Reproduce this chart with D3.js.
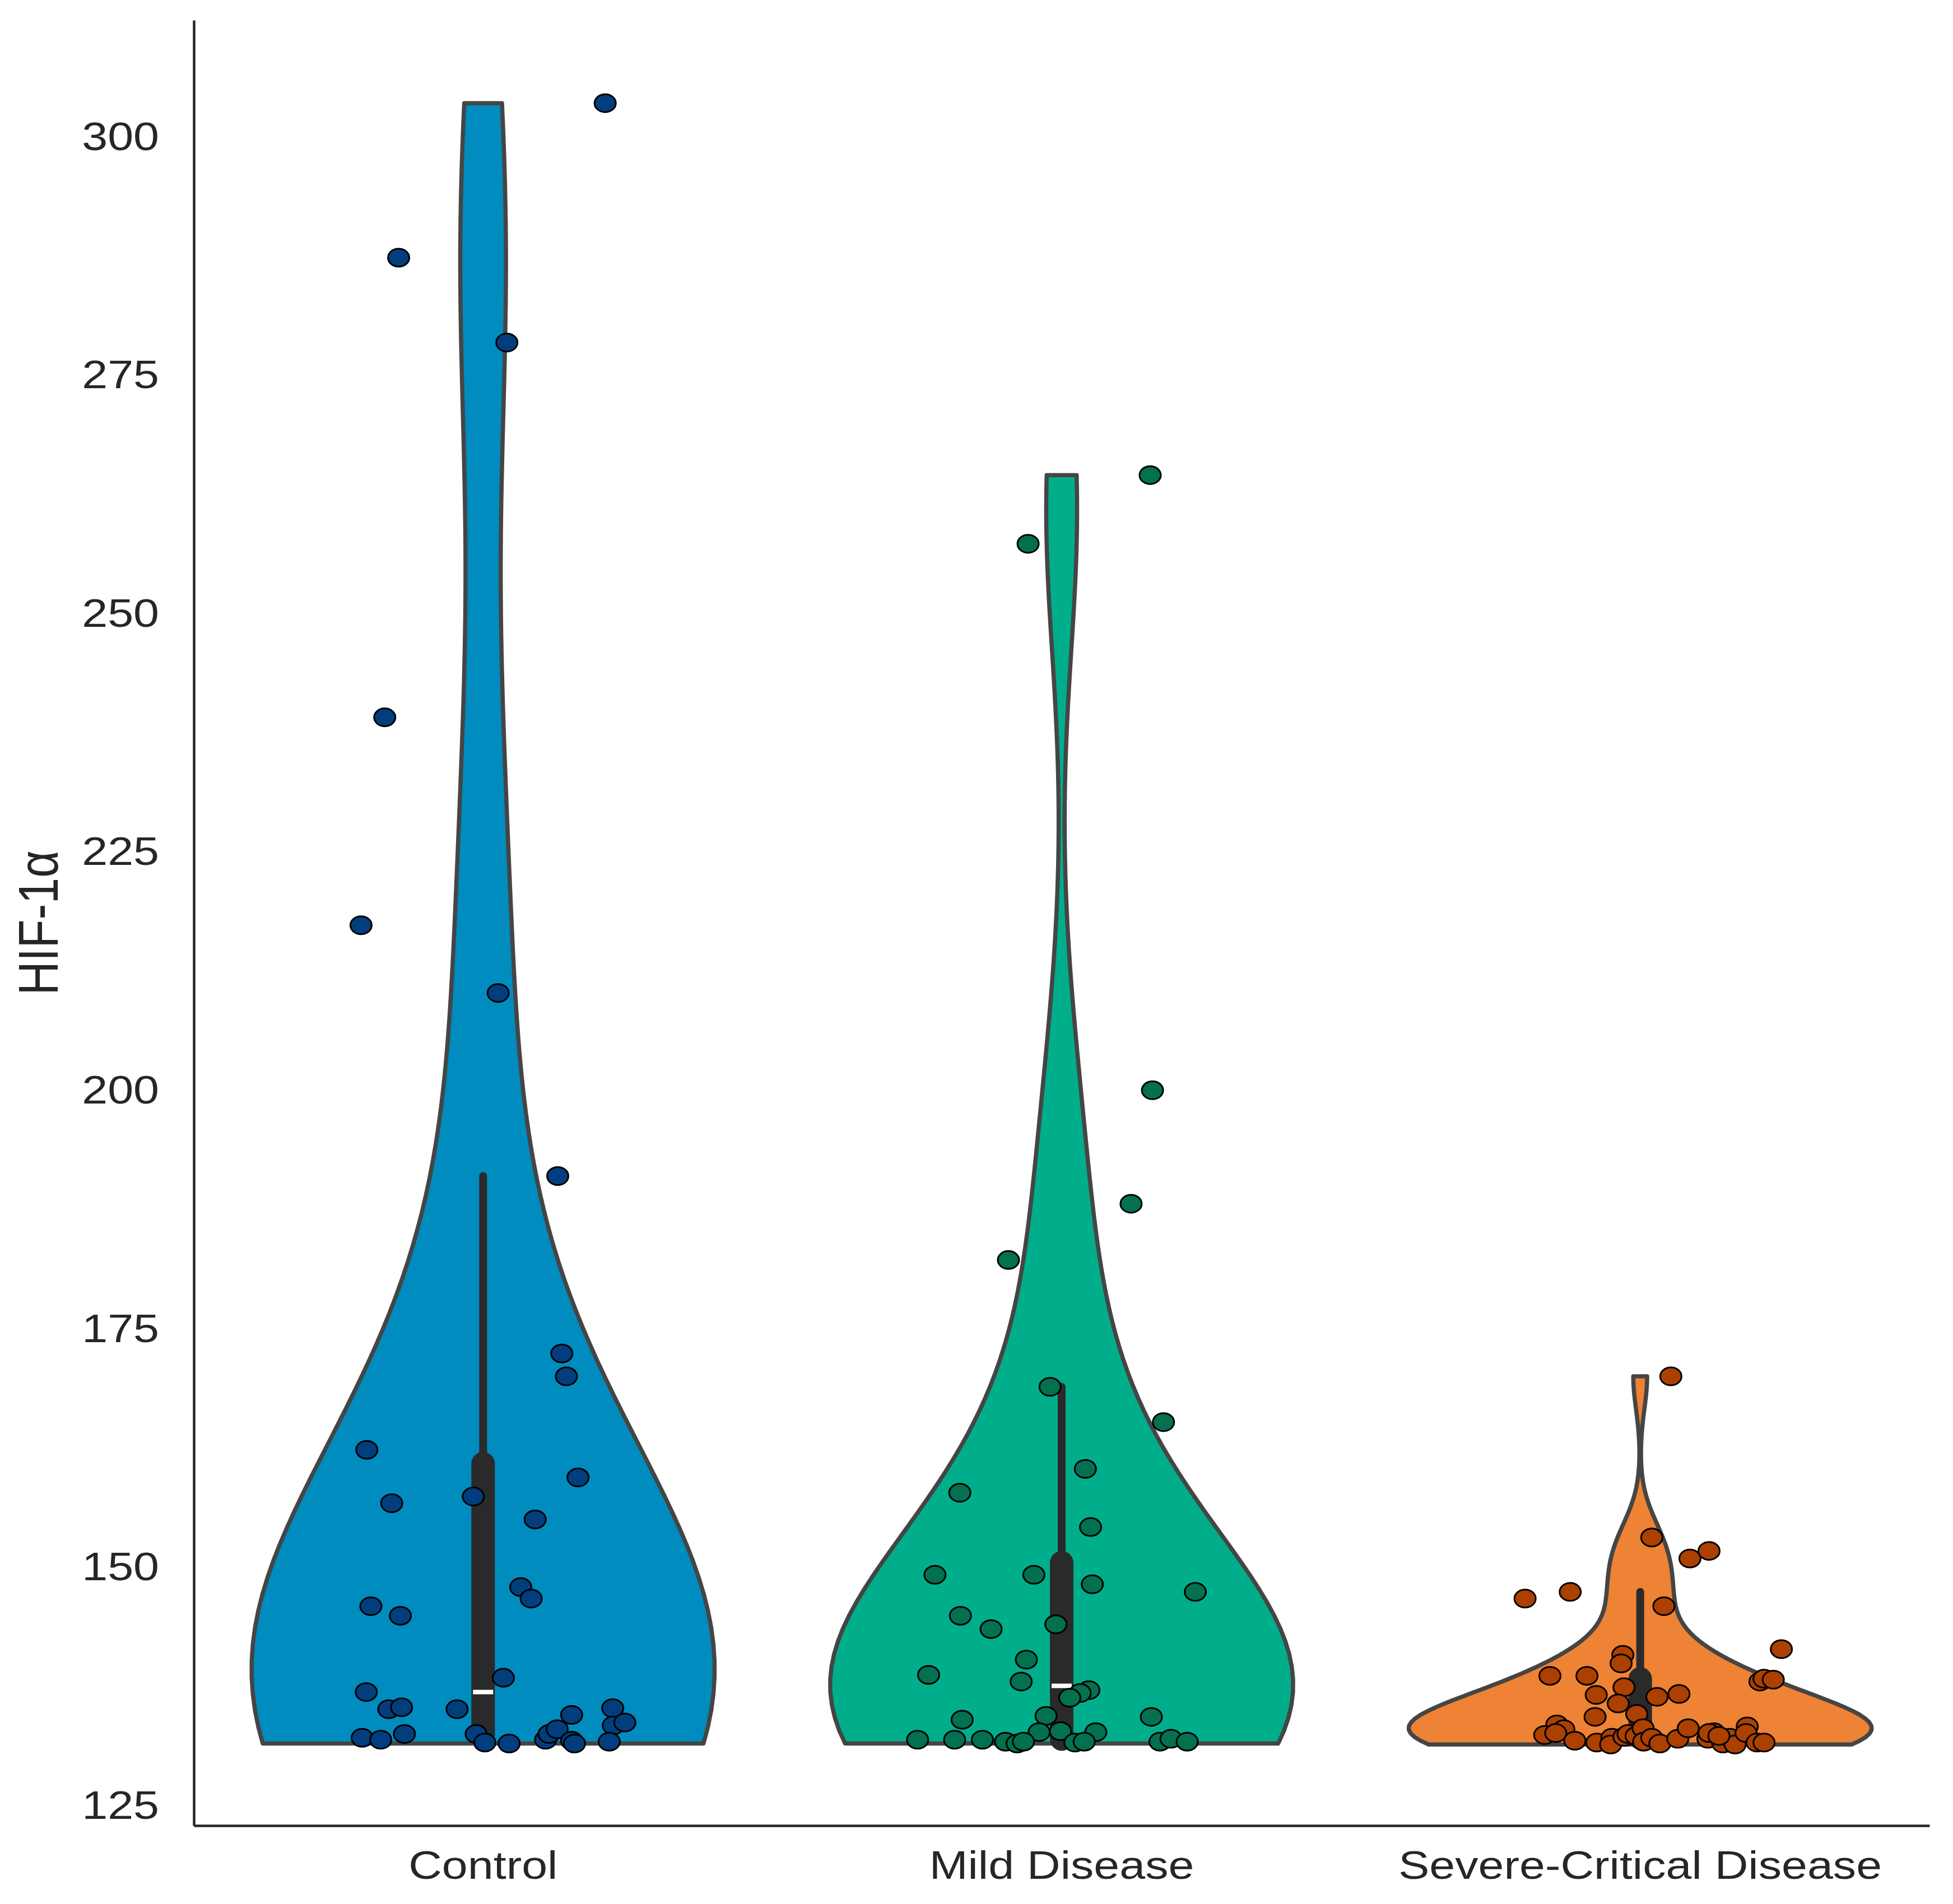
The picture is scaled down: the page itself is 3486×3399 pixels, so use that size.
<!DOCTYPE html>
<html>
<head>
<meta charset="utf-8">
<script src="https://cdn.jsdelivr.net/npm/d3@7"></script>
<style>
  body { margin: 0; background: #fff; }
  text { font-family: "Liberation Sans", Arial, sans-serif; fill: #262626; }
</style>
</head>
<body>
<div id="chart"></div>
<script>
// ---- data ----
const categories = ["Control", "Mild Disease", "Severe-Critical Disease"];
const yTicks = [125, 150, 175, 200, 225, 250, 275, 300];
const yLabel = "HIF-1α";

const controlValues = [303.4, 287.2, 278.3, 239.0, 217.2, 210.1, 190.9, 172.3, 169.9, 162.2,
  159.3, 156.6, 157.3, 154.9, 147.8, 146.6, 145.8, 144.8, 138.3, 136.8,
  135.0, 135.2, 135.0, 134.4, 135.1, 133.3, 133.6, 132.0, 131.8, 132.4,
  132.4, 131.5, 131.4, 131.8, 132.4, 132.9, 131.7, 131.4, 131.6];
const controlJitter = [0.211, -0.146, 0.041, -0.170, -0.211, 0.026, 0.129, 0.136, 0.144, -0.201,
  0.164, -0.158, -0.017, 0.090, 0.065, 0.083, -0.194, -0.143, 0.035, -0.202,
  -0.163, -0.141, -0.045, 0.153, 0.224, 0.225, 0.245, -0.209, -0.177, -0.136,
  -0.012, 0.003, 0.045, 0.108, 0.114, 0.128, 0.153, 0.158, 0.218];

const mildValues = [264.4, 257.2, 199.9, 188.0, 182.1, 168.8, 165.1, 160.2, 157.7, 154.1,
  149.1, 149.1, 148.1, 147.3, 144.8, 143.4, 143.9, 140.2, 138.6, 137.9,
  137.0, 136.7, 136.2, 133.9, 134.3, 134.2, 132.6, 132.7, 132.6, 131.8,
  131.8, 131.8, 131.6, 131.4, 131.6, 131.5, 131.6, 131.6, 131.9, 131.6];
const mildJitter = [0.153, -0.058, 0.157, 0.120, -0.092, -0.020, 0.176, 0.041, -0.176, 0.050,
  -0.219, -0.048, 0.053, 0.231, -0.175, -0.122, -0.010, -0.061, -0.230, -0.070,
  0.047, 0.032, 0.014, -0.172, -0.027, 0.155, -0.039, -0.002, 0.059, -0.249,
  -0.185, -0.137, -0.097, -0.077, -0.066, 0.023, 0.039, 0.170, 0.189, 0.217];

const severeValues = [169.9, 153.0, 150.8, 151.6, 146.6, 147.3, 145.8, 141.3, 140.7, 139.8,
  138.5, 138.5, 137.9, 138.2, 138.1, 137.3, 136.5, 136.3, 136.6, 135.6,
  134.2, 134.5, 133.4, 132.9, 132.3, 132.5, 131.7, 131.5, 132.0, 131.3,
  132.1, 132.4, 132.2, 133.0, 131.6, 132.0, 131.4, 131.9, 133.0, 131.9,
  132.6, 131.4, 132.0, 131.3, 133.2, 132.5, 131.5, 131.5, 132.5, 132.2];
const severeJitter = [0.053, 0.020, 0.086, 0.119, -0.199, -0.121, 0.041, 0.244, -0.030, -0.033,
  -0.156, -0.092, 0.207, 0.214, 0.230, -0.028, -0.076, 0.029, 0.067, -0.038,
  -0.078, -0.006, -0.144, -0.132, -0.165, -0.146, -0.113, -0.075, -0.049, -0.051,
  -0.028, -0.021, -0.007, 0.005, 0.006, 0.020, 0.034, 0.065, 0.083, 0.117,
  0.127, 0.143, 0.155, 0.164, 0.185, 0.183, 0.202, 0.214, 0.119, 0.136];

const violinColors = ["#008CBE", "#00AE8C", "#EE8235"];
const pointColors  = ["#023E7D", "#03704F", "#AC4000"];

window.addEventListener("DOMContentLoaded", () => {
  const width = 3486, height = 3399;
  const left = 346, right = 3444, top = 36, bottom = 3259;
  const stretch = 1.18;   // picture is a bit wider than tall

  const groups = [
    { cat: categories[0], values: controlValues, jitter: controlJitter },
    { cat: categories[1], values: mildValues,    jitter: mildJitter },
    { cat: categories[2], values: severeValues,  jitter: severeJitter }
  ];

  const svg = d3.select("#chart").append("svg")
    .attr("width", width).attr("height", height)
    .attr("viewBox", [0, 0, width, height]);

  const x = d3.scaleBand().domain(categories).range([left, right]).padding(0);
  const cx = c => x(c) + x.bandwidth() / 2;
  const y = d3.scaleLinear().domain([122.8, 312.1]).range([bottom, top]);

  // gaussian kde, scott bandwidth, cut=0, scaled to width 0.8
  function violin(values) {
    const n = values.length;
    const bw = d3.deviation(values) * Math.pow(n, -0.2);
    const lo = d3.min(values), hi = d3.max(values);
    const grid = d3.range(100).map(i => lo + (hi - lo) * i / 99);
    const dens = grid.map(g => d3.sum(values, v => Math.exp(-0.5 * ((g - v) / bw) ** 2)));
    const mx = d3.max(dens);
    return grid.map((g, i) => ({ v: g, w: dens[i] / mx * 0.4 }));
  }

  const plot = svg.append("g");

  groups.forEach((gr, i) => {
    const c = cx(gr.cat);
    const bwPx = x.bandwidth();
    const pts = violin(gr.values);

    const area = d3.area()
      .y(d => y(d.v))
      .x0(d => c - d.w * bwPx)
      .x1(d => c + d.w * bwPx);

    plot.append("path")
      .datum(pts)
      .attr("d", area)
      .attr("fill", violinColors[i])
      .attr("stroke", "#454545")
      .attr("stroke-width", 7.5)
      .attr("stroke-linejoin", "round");

    // inner box
    const sorted = gr.values.slice().sort(d3.ascending);
    const q1 = d3.quantile(sorted, 0.25), q3 = d3.quantile(sorted, 0.75);
    const med = d3.quantile(sorted, 0.5);
    const iqr = q3 - q1;
    const wLo = d3.min(sorted.filter(v => v >= q1 - 1.5 * iqr));
    const wHi = d3.max(sorted.filter(v => v <= q3 + 1.5 * iqr));

    plot.append("line")
      .attr("x1", c).attr("x2", c)
      .attr("y1", y(wLo)).attr("y2", y(wHi))
      .attr("stroke", "#2a2a2a").attr("stroke-width", 14)
      .attr("stroke-linecap", "round");
    plot.append("line")
      .attr("x1", c).attr("x2", c)
      .attr("y1", y(q1)).attr("y2", y(q3))
      .attr("stroke", "#2a2a2a").attr("stroke-width", 42)
      .attr("stroke-linecap", "round");
    plot.append("rect")
      .attr("x", c - 18).attr("y", y(med) - 4)
      .attr("width", 36).attr("height", 8)
      .attr("fill", "#fff");
  });

  // strip points
  groups.forEach((gr, i) => {
    const c = cx(gr.cat);
    plot.append("g").selectAll("ellipse")
      .data(gr.values.map((v, k) => ({ v, j: gr.jitter[k] })))
      .join("ellipse")
      .attr("cx", d => c + d.j * x.bandwidth())
      .attr("cy", d => y(d.v))
      .attr("rx", 19).attr("ry", 16)
      .attr("fill", pointColors[i])
      .attr("stroke", "#000")
      .attr("stroke-width", 3);
  });

  // axes
  const yAxis = svg.append("g")
    .attr("transform", `translate(${left},0)`)
    .call(d3.axisLeft(y).tickValues(yTicks).tickSize(0).tickPadding(0));
  yAxis.select(".domain").attr("stroke", "#262626").attr("stroke-width", 4.5);
  yAxis.selectAll("text")
    .attr("x", 0).attr("dy", null)
    .attr("text-anchor", "end")
    .attr("transform", `translate(-62,25) scale(${stretch},1)`)
    .style("font-size", "70px")
    .style("font-family", null);

  const xAxis = svg.append("g")
    .attr("transform", `translate(0,${bottom})`)
    .call(d3.axisBottom(x).tickSize(0).tickPadding(0));
  xAxis.select(".domain").attr("stroke", "#262626").attr("stroke-width", 4.5);
  xAxis.selectAll("text")
    .attr("y", 0).attr("dy", null)
    .attr("text-anchor", "middle")
    .attr("transform", `translate(0,95) scale(${stretch},1)`)
    .style("font-size", "70px")
    .style("font-family", null);
  svg.selectAll(".tick text").attr("fill", "#262626");

  svg.append("text")
    .attr("transform", `translate(103,${(top + bottom) / 2}) scale(1.2,1) rotate(-90)`)
    .attr("text-anchor", "middle")
    .style("font-size", "84px")
    .text(yLabel);
});
</script>
</body>
</html>
